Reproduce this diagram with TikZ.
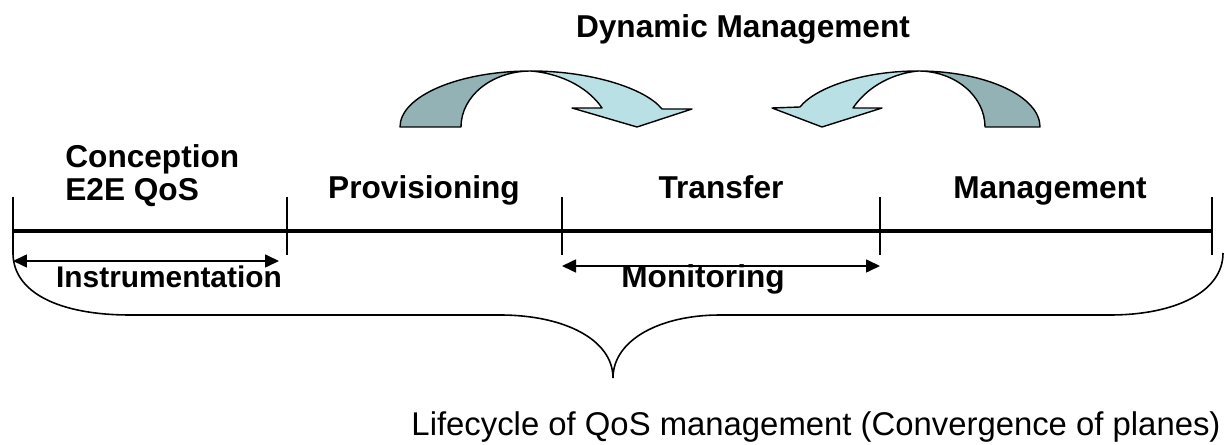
\documentclass[tikz,border=0pt]{standalone}
\usepackage{fontspec}
\setmainfont{Liberation Sans}
\usetikzlibrary{arrows.meta}
\definecolor{ribbondark}{RGB}{147,178,181}
\definecolor{ribbonlight}{RGB}{185,224,228}

\begin{document}
\begin{tikzpicture}[x=0.02cm, y=-0.02cm,
  lbl/.style={font=\fontsize{18}{18.8}\selectfont\bfseries, inner sep=0pt},
  note/.style={font=\fontsize{18.7}{20}\selectfont, inner sep=0pt},
  tickline/.style={line width=0.9pt},
  axisline/.style={line width=2.3pt},
  dimarr/.style={{Triangle[length=0.28cm,width=0.26cm]}-{Triangle[length=0.28cm,width=0.26cm]}, line width=0.9pt},
  bracket/.style={line width=0.9pt},
  back/.style={draw, fill=ribbondark, line width=0.8pt, line join=round},
  front/.style={draw, fill=ribbonlight, line width=0.8pt, line join=round}
]
  \useasboundingbox (0,0) rectangle (1226,445);

  % time line and phase borders
  \coordinate (p0) at (13,231);
  \coordinate (p1) at (287,231);
  \coordinate (p2) at (562,231);
  \coordinate (p3) at (880,231);
  \coordinate (p4) at (1212,231);
  \draw[axisline] (p0) -- (p4);
  \foreach \p in {p0,p1,p2,p3,p4}
    \draw[tickline] (\p) ++(0,-34) -- ++(0,58);

  % phases
  \node[lbl, anchor=north west, align=left] (conc) at (65,144) {Conception\\E2E QoS};
  \node[lbl, anchor=base] (prov) at (424,199) {Provisioning};
  \node[lbl, anchor=base] (trans) at (721,199) {Transfer};
  \node[lbl, anchor=base] (mgmt) at (1050,199) {Management};

  % spans below the line
  \coordinate (i0) at (13,261);
  \coordinate (i1) at (279,261);
  \draw[dimarr] (i0) -- (i1);
  \node[lbl, font=\fontsize{17}{18}\selectfont\bfseries, anchor=base] (instr) at (169,288) {Instrumentation};
  \coordinate (m0) at (562,266);
  \coordinate (m1) at (880,266);
  \draw[dimarr] (m0) -- (m1);
  \node[lbl, anchor=base] (monit) at (703,288) {Monitoring};

  % brace over the whole cycle
  \coordinate (tip) at (613,378);
  \draw[bracket] (13,253) .. controls (13,293) and (60,315) .. (130,315) -- (500,315)
    .. controls (565,315) and (613,340) .. (tip)
    .. controls (613,340) and (660,315) .. (720,315) -- (1110,315)
    .. controls (1175,315) and (1223,292) .. (1223,253);
  \node[note, anchor=base] (life) at (816,436) {Lifecycle of QoS management (Convergence of planes)};

  % dynamic management ribbons
  \node[lbl, anchor=base] (dyn) at (743,38) {Dynamic Management};
  \draw[back] (400,127) .. controls (400,96) and (459,71) .. (531,71)
    .. controls (492,71) and (461,96) .. (461,127) -- cycle;
  \draw[front] (531,71) .. controls (590,71) and (645,88) .. (662,109) -- (692,109) -- (637,127)
    -- (572,108) -- (602,108) .. controls (590,90) and (565,74) .. (531,71) -- cycle;
  \draw[back] (1040,127) .. controls (1040,96) and (985,71) .. (918,71)
    .. controls (955,71) and (985,96) .. (985,127) -- cycle;
  \draw[front] (918,71) .. controls (862,71) and (815,88) .. (800,107) -- (772,108) -- (822,127)
    -- (882,108) -- (853,108) .. controls (865,90) and (888,74) .. (918,71) -- cycle;
\end{tikzpicture}
\end{document}
